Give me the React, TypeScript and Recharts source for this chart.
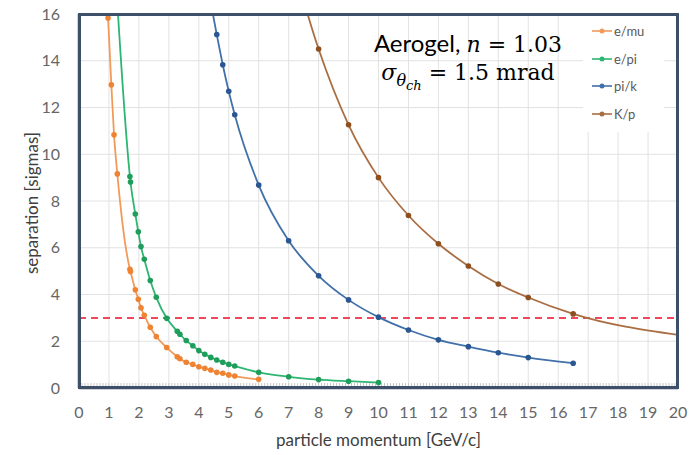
import React from 'react';
import { LineChart, Line, XAxis, YAxis, CartesianGrid, ReferenceLine, Legend } from 'recharts';

// ---- data ----
const xTicks = [0, 1, 2, 3, 4, 5, 6, 7, 8, 9, 10, 11, 12, 13, 14, 15, 16, 17, 18, 19, 20];
const yTicks = [0, 2, 4, 6, 8, 10, 12, 14, 16];
const xDomain = [0, 20];
const yDomain = [0, 16];
const threshold = 3;

const eMu = [
  { x: 0.93, y: 17.0 },
  { x: 0.97, y: 15.83 },
  { x: 1.08, y: 12.97 },
  { x: 1.17, y: 10.83 },
  { x: 1.28, y: 9.16 },
  { x: 1.70, y: 5.08 },
  { x: 1.72, y: 4.98 },
  { x: 1.88, y: 4.2 },
  { x: 1.98, y: 3.8 },
  { x: 2.07, y: 3.43 },
  { x: 2.18, y: 3.11 },
  { x: 2.38, y: 2.6 },
  { x: 2.58, y: 2.2 },
  { x: 2.93, y: 1.73 },
  { x: 3.28, y: 1.34 },
  { x: 3.37, y: 1.25 },
  { x: 3.58, y: 1.1 },
  { x: 3.8, y: 1.01 },
  { x: 4.0, y: 0.91 },
  { x: 4.2, y: 0.84 },
  { x: 4.4, y: 0.77 },
  { x: 4.6, y: 0.67 },
  { x: 4.8, y: 0.63 },
  { x: 5.0, y: 0.56 },
  { x: 5.2, y: 0.51 },
  { x: 6.0, y: 0.37 },
];

const ePi = [
  { x: 1.2, y: 18.1 },
  { x: 1.70, y: 9.05 },
  { x: 1.72, y: 8.81 },
  { x: 1.88, y: 7.44 },
  { x: 1.98, y: 6.68 },
  { x: 2.07, y: 6.05 },
  { x: 2.18, y: 5.51 },
  { x: 2.38, y: 4.6 },
  { x: 2.58, y: 3.88 },
  { x: 2.93, y: 2.98 },
  { x: 3.28, y: 2.43 },
  { x: 3.37, y: 2.3 },
  { x: 3.58, y: 2.03 },
  { x: 3.8, y: 1.81 },
  { x: 4.0, y: 1.6 },
  { x: 4.2, y: 1.44 },
  { x: 4.4, y: 1.31 },
  { x: 4.6, y: 1.2 },
  { x: 4.8, y: 1.1 },
  { x: 5.0, y: 1.01 },
  { x: 5.2, y: 0.94 },
  { x: 6, y: 0.67 },
  { x: 7, y: 0.48 },
  { x: 8, y: 0.36 },
  { x: 9, y: 0.29 },
  { x: 10, y: 0.23 },
];

const piK = [
  { x: 4.3, y: 17.15 },
  { x: 4.6, y: 15.12 },
  { x: 4.8, y: 13.83 },
  { x: 5.0, y: 12.69 },
  { x: 5.2, y: 11.69 },
  { x: 6, y: 8.68 },
  { x: 7, y: 6.3 },
  { x: 8, y: 4.8 },
  { x: 9, y: 3.77 },
  { x: 10, y: 3.03 },
  { x: 11, y: 2.48 },
  { x: 12, y: 2.06 },
  { x: 13, y: 1.77 },
  { x: 14, y: 1.51 },
  { x: 15, y: 1.3 },
  { x: 16.5, y: 1.06 },
];

const kP = [
  { x: 7, y: 18.8 },
  { x: 8, y: 14.5 },
  { x: 9, y: 11.26 },
  { x: 10, y: 9.0 },
  { x: 11, y: 7.38 },
  { x: 12, y: 6.17 },
  { x: 13, y: 5.22 },
  { x: 14, y: 4.45 },
  { x: 15, y: 3.87 },
  { x: 16.5, y: 3.17 },
  { x: 20, y: 2.27 },
];
const kPLastMarkerX = 16.5;

const seriesNames = ['e/mu', 'e/pi', 'pi/k', 'K/p'];

// minor tick positions along the bottom of the frame
const minorX = Array.from({ length: 201 }, (_, i) => i / 10);

const COLORS = {
  eMu: { line: '#F29A5A', dot: '#EE8334' },
  ePi: { line: '#2DB572', dot: '#1F9E5B' },
  piK: { line: '#4170AA', dot: '#2A5792' },
  kP: { line: '#AA6E42', dot: '#8E4F1F' },
};
const FRAME = '#3E4F69';

const FONT = 'Lato, "Open Sans", sans-serif';

// chart layout
const W = 692;
const H = 455;
const M = { top: 14, right: 14, left: 20, bottom: 37 };
const Y_AXIS_W = 59;
const X_AXIS_H = 30;

const makeDot = (color: string, maxX?: number) => (p: any) => {
  const { cx, cy, index, payload } = p;
  if (cx == null || cy == null || (maxX !== undefined && payload.x > maxX)) {
    return <g key={`d-${index}`} />;
  }
  return <circle key={`d-${index}`} cx={cx} cy={cy} r={2.8} fill={color} stroke="none" />;
};

const LegendContent = (props: any) => {
  const items = seriesNames
    .map((n) => (props.payload || []).find((it: any) => it.value === n))
    .filter(Boolean);
  return (
    <div style={{ background: '#fff', width: 72, padding: '1px 0 4px 9px', fontFamily: FONT, fontSize: 13, color: '#595959' }}>
      {items.map((it: any) => (
        <div key={it.value} style={{ display: 'flex', alignItems: 'center', height: 27.7 }}>
          <svg width={20} height={8} style={{ marginRight: 2 }}>
            <line x1={0} y1={4} x2={20} y2={4} stroke={it.color} strokeWidth={1.6} />
            <circle cx={10} cy={4} r={2.5} fill={it.color} />
          </svg>
          <span>{it.value}</span>
        </div>
      ))}
    </div>
  );
};

const hiddenTick = () => '';

export default function App() {
  const plotLeft = M.left + Y_AXIS_W;
  const plotTop = M.top;
  const plotW = W - plotLeft - M.right;
  const plotH = H - M.top - M.bottom - X_AXIS_H;
  return (
    <div style={{ position: 'absolute', left: 0, top: 0, width: W, height: H, background: '#fff' }}>
      <LineChart width={W} height={H} margin={M}>
        <CartesianGrid stroke="#E2E2E2" strokeWidth={1} />
        <XAxis
          xAxisId={0}
          type="number"
          dataKey="x"
          domain={xDomain}
          ticks={xTicks}
          allowDataOverflow
          interval={0}
          height={X_AXIS_H}
          axisLine={{ stroke: FRAME, strokeWidth: 2.5 }}
          tickLine={false}
          tickSize={0}
          tickMargin={19}
          tick={{ fill: '#666666', fontSize: 16, fontFamily: FONT }}
        />
        <XAxis
          xAxisId="minor"
          type="number"
          dataKey="x"
          domain={xDomain}
          ticks={minorX}
          allowDataOverflow
          interval={0}
          mirror
          axisLine={false}
          stroke="#C8C8C8"
          tickLine
          tickSize={5}
          tickFormatter={hiddenTick}
        />
        <YAxis
          yAxisId={0}
          type="number"
          domain={yDomain}
          ticks={yTicks}
          allowDataOverflow
          interval={0}
          width={Y_AXIS_W}
          axisLine={{ stroke: FRAME, strokeWidth: 2.5 }}
          tickLine={false}
          tickSize={0}
          tickMargin={19}
          tick={{ fill: '#666666', fontSize: 16, fontFamily: FONT }}
        />
        <ReferenceLine y={threshold} stroke="#F0475C" strokeWidth={2} strokeDasharray="7 5" />
        <Line
          name="e/mu"
          data={eMu}
          dataKey="y"
          type="monotone"
          stroke={COLORS.eMu.line}
          strokeWidth={1.8}
          dot={makeDot(COLORS.eMu.dot)}
          activeDot={false}
          isAnimationActive={false}
        />
        <Line
          name="e/pi"
          data={ePi}
          dataKey="y"
          type="monotone"
          stroke={COLORS.ePi.line}
          strokeWidth={1.8}
          dot={makeDot(COLORS.ePi.dot)}
          activeDot={false}
          isAnimationActive={false}
        />
        <Line
          name="pi/k"
          data={piK}
          dataKey="y"
          type="monotone"
          stroke={COLORS.piK.line}
          strokeWidth={1.8}
          dot={makeDot(COLORS.piK.dot)}
          activeDot={false}
          isAnimationActive={false}
        />
        <Line
          name="K/p"
          data={kP}
          dataKey="y"
          type="monotone"
          stroke={COLORS.kP.line}
          strokeWidth={1.8}
          dot={makeDot(COLORS.kP.dot, kPLastMarkerX)}
          activeDot={false}
          isAnimationActive={false}
        />
        <Legend
          layout="horizontal"
          verticalAlign="middle"
          align="center"
          content={<LegendContent />}
          wrapperStyle={{ left: 583, top: 16, width: 80, height: 110 }}
        />
      </LineChart>

      {/* plot-area frame */}
      <div
        style={{
          position: 'absolute',
          left: plotLeft - 1,
          top: plotTop - 1,
          width: plotW + 2,
          height: plotH + 2,
          boxSizing: 'border-box',
          borderStyle: 'solid',
          borderWidth: 3,
          borderColor: FRAME,
          pointerEvents: 'none',
          zIndex: 10,
        }}
      />

      {/* annotation */}
      <div style={{ position: 'absolute', left: 338, top: 30, width: 260, textAlign: 'center', color: '#000', whiteSpace: 'nowrap', lineHeight: '26px' }}>
        <div>
          <span style={{ fontFamily: FONT, fontSize: 24 }}>Aerogel, </span>
          <span style={{ fontFamily: '"DejaVu Serif", serif', fontSize: 22, fontStyle: 'italic' }}>n</span>
          <span style={{ fontFamily: '"DejaVu Serif", serif', fontSize: 22 }}> = 1.03</span>
        </div>
        <div style={{ fontFamily: '"DejaVu Serif", serif', fontSize: 22 }}>
          <span style={{ fontStyle: 'italic' }}>σ</span>
          <span style={{ fontStyle: 'italic', fontSize: 16, position: 'relative', top: 6 }}>
            θ<span style={{ fontSize: 13, position: 'relative', top: 4 }}>ch</span>
          </span>
          <span> = 1.5 mrad</span>
        </div>
      </div>

      {/* axis titles */}
      <div style={{ position: 'absolute', left: 276, top: 429, width: 200, textAlign: 'center', fontFamily: FONT, fontSize: 17, color: '#404040', whiteSpace: 'nowrap' }}>
        particle momentum [GeV/c]
      </div>
      <div style={{ position: 'absolute', left: 32, top: 203, width: 0, height: 0 }}>
        <div style={{ position: 'absolute', left: -100, top: -11, width: 200, textAlign: 'center', transform: 'rotate(-90deg)', fontFamily: FONT, fontSize: 17, color: '#404040', whiteSpace: 'nowrap', lineHeight: '22px' }}>
          separation [sigmas]
        </div>
      </div>
    </div>
  );
}
